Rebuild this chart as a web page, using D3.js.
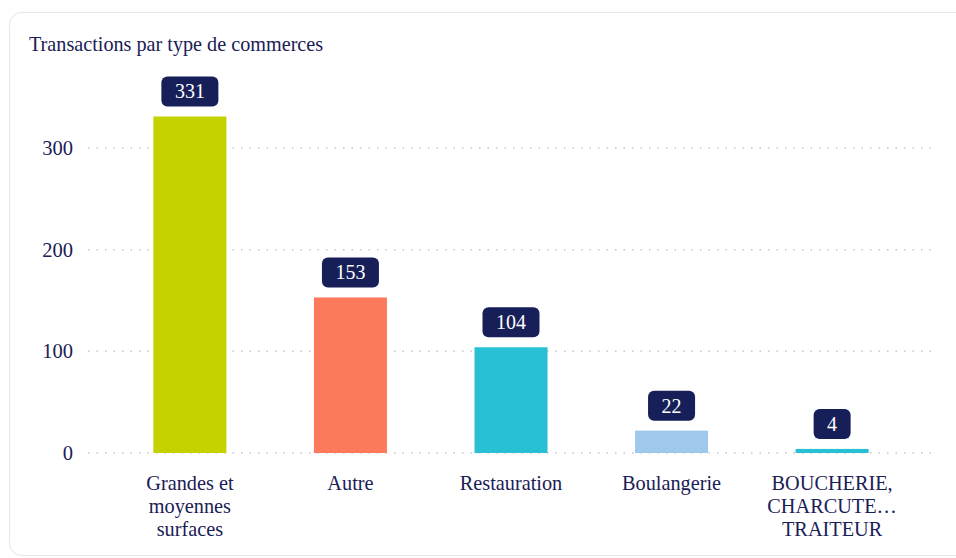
<!DOCTYPE html>
<html>
<head>
<meta charset="utf-8">
<script src="https://cdn.jsdelivr.net/npm/d3@7"></script>
<style>
  body { margin: 0; background: #fff; }
  svg text { font-family: "Liberation Serif", "Times New Roman", serif; }
</style>
</head>
<body>
<div id="chart"></div>
<script>
// data
var categories = ["Grandes et moyennes surfaces", "Autre", "Restauration", "Boulangerie", "BOUCHERIE, CHARCUTERIE, TRAITEUR"];
var labelLines = [["Grandes et", "moyennes", "surfaces"], ["Autre"], ["Restauration"], ["Boulangerie"], ["BOUCHERIE,", "CHARCUTE\u2026", "TRAITEUR"]];
var values = [331, 153, 104, 22, 4];
var colors = ["#c5d200", "#fc7a5b", "#27c0d5", "#9ec8ec", "#27c0d5"];
var yTicks = [0, 100, 200, 300];

var W = 956, H = 558;
var navy = "#1a2056";
var serif = "'Liberation Serif', 'Times New Roman', serif";

var svg = d3.select("#chart").append("svg")
    .attr("width", W)
    .attr("height", H);

// card
svg.append("rect")
    .attr("x", 9.5).attr("y", 12.5)
    .attr("width", 980).attr("height", 543)
    .attr("rx", 12)
    .style("fill", "#fff")
    .style("stroke", "#e6e7ea");

svg.append("text")
    .attr("x", 29).attr("y", 51)
    .style("font-family", serif)
    .style("font-size", "20.2px")
    .style("fill", navy)
    .text("Transactions par type de commerces");

// scales
var x = d3.scaleBand().domain(categories).range([110, 912]).paddingInner(0.545).paddingOuter(0.27);
var y = d3.scaleLinear().domain([0, 300]).range([453, 148]);

// grid
svg.append("g").selectAll("line")
    .data(yTicks).enter().append("line")
    .attr("x1", 88).attr("x2", 938)
    .attr("y1", function(d) { return y(d); })
    .attr("y2", function(d) { return y(d); })
    .style("stroke", "#c8c8c8")
    .style("stroke-width", 1.5)
    .style("stroke-dasharray", "1.5 7");

// y axis labels
var yAxis = svg.append("g")
    .attr("transform", "translate(73,0)")
    .call(d3.axisLeft(y).tickValues(yTicks).tickSize(0).tickPadding(0));
yAxis.select(".domain").remove();
yAxis.selectAll("text")
    .style("font-family", serif)
    .style("font-size", "20.5px")
    .style("fill", navy);

// bars
var bw = 73;
function cx(i) { return x(categories[i]) + x.bandwidth() / 2; }

svg.append("g").selectAll("rect")
    .data(values).enter().append("rect")
    .attr("x", function(d, i) { return cx(i) - bw / 2; })
    .attr("y", function(d) { return y(d); })
    .attr("width", bw)
    .attr("height", function(d) { return y(0) - y(d); })
    .style("fill", function(d, i) { return colors[i]; });

// value badges
function badgeW(d) { return String(d).length * 10 + 27; }

var badges = svg.append("g").selectAll("g")
    .data(values).enter().append("g")
    .attr("transform", function(d, i) { return "translate(" + cx(i) + "," + (y(d) - 10) + ")"; });

badges.append("rect")
    .attr("x", function(d) { return -badgeW(d) / 2; })
    .attr("y", -30)
    .attr("width", badgeW)
    .attr("height", 30)
    .attr("rx", 6)
    .style("fill", "#161f58");

badges.append("text")
    .attr("y", -8)
    .attr("text-anchor", "middle")
    .style("font-family", serif)
    .style("font-size", "20px")
    .style("fill", "#fff")
    .text(function(d) { return d; });

// category labels
var cat = svg.append("g").selectAll("text")
    .data(labelLines).enter().append("text")
    .attr("text-anchor", "middle")
    .style("font-family", serif)
    .style("font-size", "20.3px")
    .style("fill", navy)
    .attr("transform", function(d, i) { return "translate(" + cx(i) + ",490)"; });

cat.selectAll("tspan")
    .data(function(d) { return d; }).enter().append("tspan")
    .attr("x", 0)
    .attr("dy", function(d, j) { return j === 0 ? 0 : 23.2; })
    .text(function(d) { return d; });
</script>
</body>
</html>
